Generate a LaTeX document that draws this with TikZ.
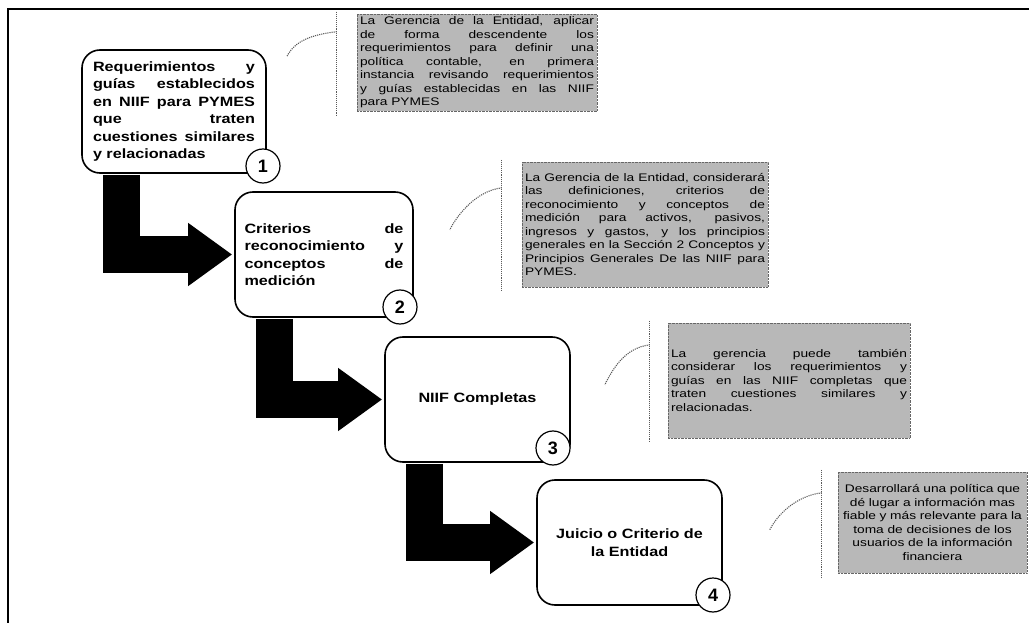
\documentclass[tikz,border=0pt]{standalone}
\usepackage{fontspec}
\setmainfont{Liberation Sans}
\newfontfamily\boxfont{Liberation Sans}[FakeStretch=1.2]
\newfontfamily\notefont{Liberation Sans}[FakeStretch=1.25]
\usetikzlibrary{arrows.meta,calc}

\begin{document}
\begin{tikzpicture}
  [x=1pt,y=-1pt,
   stepbox/.style={draw,line width=1.6pt,rounded corners=18pt,fill=white,inner sep=0pt,
     font=\boxfont\bfseries\fontsize{13.5}{17.5}\selectfont},
   num/.style={circle,draw,line width=1.2pt,fill=white,minimum size=34pt,inner sep=0pt,
     font=\bfseries\fontsize{18}{18}\selectfont},
   note/.style={draw=black!60,densely dotted,fill=black!28,inner sep=3pt,
     font=\notefont\fontsize{11}{13.5}\selectfont},
   blockarrow/.style={line width=37pt,line join=miter,shorten >=2pt,
     -{Triangle[length=44pt,width=60pt]}},
   hook/.style={black!65,densely dotted,line width=1.1pt}]

  \useasboundingbox (0,0) rectangle (1029,623);
  \draw[line width=1.3pt] (1029,9) -- (8,9) -- (8,623);

  % pasos
  \node[stepbox,minimum width=184pt,minimum height=123pt,text width=162pt,align=justify] (b1) at (174,111.5)
    {Requerimientos y\linebreak guías establecidos\linebreak en NIIF para PYMES\linebreak que traten\linebreak cuestiones similares\linebreak y relacionadas};
  \node[stepbox,minimum width=178pt,minimum height=125pt,text width=159pt,align=justify] (b2) at (324,254.5)
    {Criterios de\linebreak reconocimiento y\linebreak conceptos de\linebreak medición};
  \node[stepbox,minimum width=185pt,minimum height=125pt,text width=165pt,align=center] (b3) at (477.5,399.5)
    {NIIF Completas};
  \node[stepbox,minimum width=185pt,minimum height=125pt,text width=165pt,align=center] (b4) at (629.5,542.5)
    {Juicio o Criterio de\\la Entidad};

  \foreach \from/\to in {b1/b2,b2/b3,b3/b4}
    \draw[blockarrow] ([xshift=40pt,yshift=-1pt]\from.south west) |- (\to.west);

  \node[num] (c1) at (263,166) {1};
  \node[num] (c2) at (400,307) {2};
  \node[num] (c3) at (553,448) {3};
  \node[num] (c4) at (713,595) {4};

  % notas
  \node[note,minimum width=240pt,minimum height=95pt,text width=234pt,align=justify] (n1) at (477,62.5)
    {La Gerencia de la Entidad, aplicar\linebreak de forma descendente los\linebreak requerimientos para definir una\linebreak política contable, en primera\linebreak instancia revisando requerimientos\linebreak y guías establecidas en las NIIF\linebreak para PYMES};
  \node[note,minimum width=246pt,minimum height=125pt,text width=240pt,align=justify] (n2) at (645,224.5)
    {La Gerencia de la Entidad, considerará\linebreak las definiciones, criterios de\linebreak reconocimiento y conceptos de\linebreak medición para activos, pasivos,\linebreak ingresos y gastos, y los principios\linebreak generales en la Sección 2 Conceptos y\linebreak Principios Generales De las NIIF para\linebreak PYMES.};
  \node[note,minimum width=242pt,minimum height=115pt,text width=236pt,align=justify] (n3) at (789,380.5)
    {La gerencia puede también\linebreak considerar los requerimientos y\linebreak guías en las NIIF completas que\linebreak traten cuestiones similares y\linebreak relacionadas.};
  \node[note,minimum width=189pt,minimum height=101pt,text width=183pt,align=center] (n4) at (932.5,522.5)
    {Desarrollará una política que\\dé lugar a información mas\\fiable y más relevante para la\\toma de decisiones de los\\usuarios de la información\\financiera};

  \foreach \n/\sx/\sy/\ex/\ey in {n1/-20/18/-70/43,n2/-20/26/-72/68,n3/-18/22/-63/62,n4/-16/21/-68/58}{
    \draw[hook] ($(\n.north west)+(\sx,-2)$) -- ($(\n.south west)+(\sx,4)$);
    \draw[hook] ($(\n.north west)+(\sx,\sy)$) .. controls +(-25,3) and +(8,-16) .. ($(\n.north west)+(\ex,\ey)$);
  }
\end{tikzpicture}
\end{document}
